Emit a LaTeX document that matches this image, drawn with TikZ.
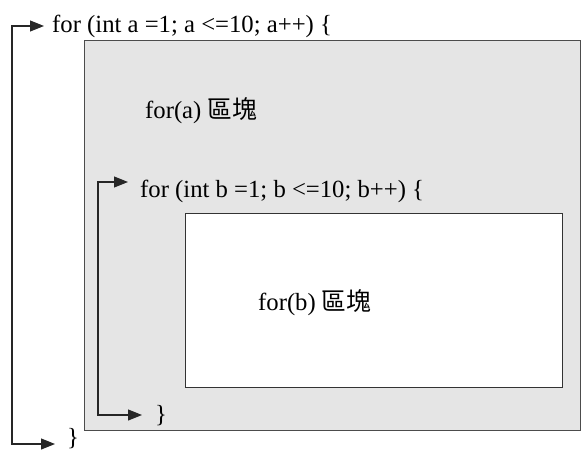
\documentclass[tikz,border=0pt]{standalone}
\usepackage{fontspec}
\setmainfont{Liberation Serif}
\newfontfamily\cjk{Noto Sans CJK TC}
\usetikzlibrary{arrows.meta}
\begin{document}
\begin{tikzpicture}[x=1pt,y=-1pt,
  code/.style={inner sep=0pt, font=\fontsize{24.7}{28}\selectfont, anchor=base west},
  loopline/.style={draw=black!85, line width=1.1pt,
     {Triangle[length=14pt,width=11pt]}-{Triangle[length=14pt,width=11pt]}},
  graybox/.style={fill=black!10, draw=black!70, line width=1pt},
  whitebox/.style={fill=white, draw=black!80, line width=1pt}]
\useasboundingbox (0,0) rectangle (581,450);
% blocks
\draw[graybox] (84,40) rectangle (580,430);
\draw[whitebox] (185,213) rectangle (562,387);
% texts
\node[code] (ta) at (52,32) {for (int a =1; a <=10; a++) \{};
\node[code] (ba) at (67,445) {\}};
\node[code] (la) at (145,118) {for(a) {\cjk 區塊}};
\node[code] (tb) at (140,197) {for (int b =1; b <=10; b++) \{};
\node[code] (bb) at (155,422) {\}};
\node[code] (lb) at (258,310) {for(b) {\cjk 區塊}};
% loop connectors
\coordinate (ca) at (12,200);
\coordinate (cb) at (98,300);
\draw[loopline] ([xshift=-8pt]ta.base west) ++(0,-6) -| (ca) |- ([xshift=-12pt]ba.base west |- 0,444);
\draw[loopline] ([xshift=-12pt]tb.base west) ++(0,-15) -| (cb) |- ([xshift=-13pt]bb.base west |- 0,415);
\end{tikzpicture}
\end{document}
